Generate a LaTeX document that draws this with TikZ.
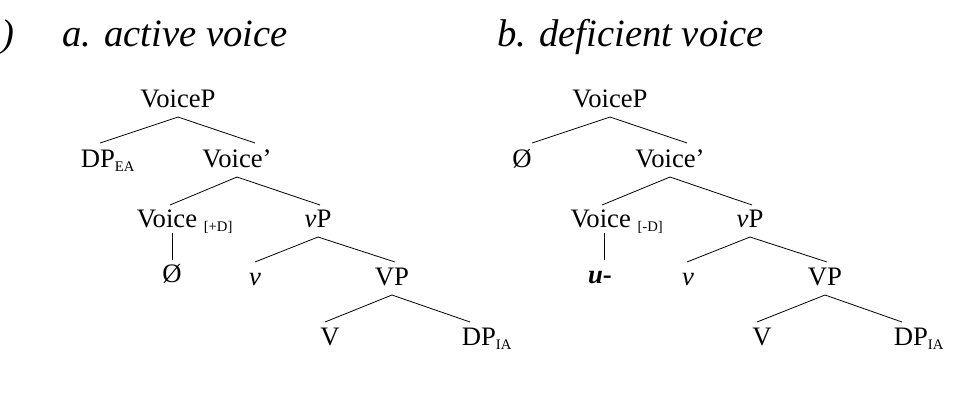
\documentclass[tikz,border=0pt]{standalone}
\usepackage{fontspec}
\setmainfont{Liberation Serif}
\begin{document}
\begin{tikzpicture}[x=0.75pt,y=-0.75pt]
\useasboundingbox (0,0) rectangle (963,408);
\tikzset{lab/.style={font=\fontsize{20}{22}\selectfont, inner sep=1pt, anchor=base},
  ttl/.style={font=\fontsize{29}{32}\selectfont\itshape, inner sep=0pt},
  br/.style={draw, semithick}}
\newcommand{\sbs}[1]{\textsubscript{\fontsize{11}{12}\selectfont #1}}
\node[ttl, anchor=base west] (t0) at (1,46) {)};
\node[ttl, anchor=base west] (ta) at (62,46) {a. active voice};
\node[ttl, anchor=base west] (tb) at (497,46) {b. deficient voice};
% active voice
\begin{scope}[every node/.style={lab}]
\node (a1) at (178,107) {VoiceP};
\node (a2) at (108,167) {DP\sbs{EA}};
\node (a3) at (237,167) {Voice'};
\node (a4) at (185,227) {Voice \sbs{[+D]}};
\node (a5) at (318,227) {\textit{v}P};
\node (a6) at (172,282) {\O};
\node (a7) at (255,285) {\textit{v}};
\node (a8) at (392,285) {VP};
\node (a9) at (330,345) {V};
\node (a10) at (487,345) {DP\sbs{IA}};
\end{scope}
\begin{scope}[every path/.style={br}]
\path (178,117) edge (100,143) edge (255,143);
\path (237,177) edge (170,205) edge (320,205);
\path (172,233) edge (172,260);
\path (318,237) edge (255,262) edge (395,262);
\path (392,295) edge (325,322) edge (470,322);
\end{scope}
% deficient voice
\begin{scope}[every node/.style={lab}]
\node (b1) at (610,107) {VoiceP};
\node (b2) at (522,167) {\O};
\node (b3) at (670,167) {Voice'};
\node (b4) at (617,227) {Voice \sbs{[-D]}};
\node (b5) at (750,227) {\textit{v}P};
\node (b6) at (600,283) {\textbf{\textit{u}-}};
\node (b7) at (688,285) {\textit{v}};
\node (b8) at (825,285) {VP};
\node (b9) at (762,345) {V};
\node (b10) at (919,345) {DP\sbs{IA}};
\end{scope}
\begin{scope}[every path/.style={br}]
\path (610,117) edge (532,143) edge (687,143);
\path (670,177) edge (602,205) edge (752,205);
\path (604,233) edge (604,260);
\path (750,237) edge (687,262) edge (827,262);
\path (825,295) edge (757,322) edge (902,322);
\end{scope}
\end{tikzpicture}
\end{document}
